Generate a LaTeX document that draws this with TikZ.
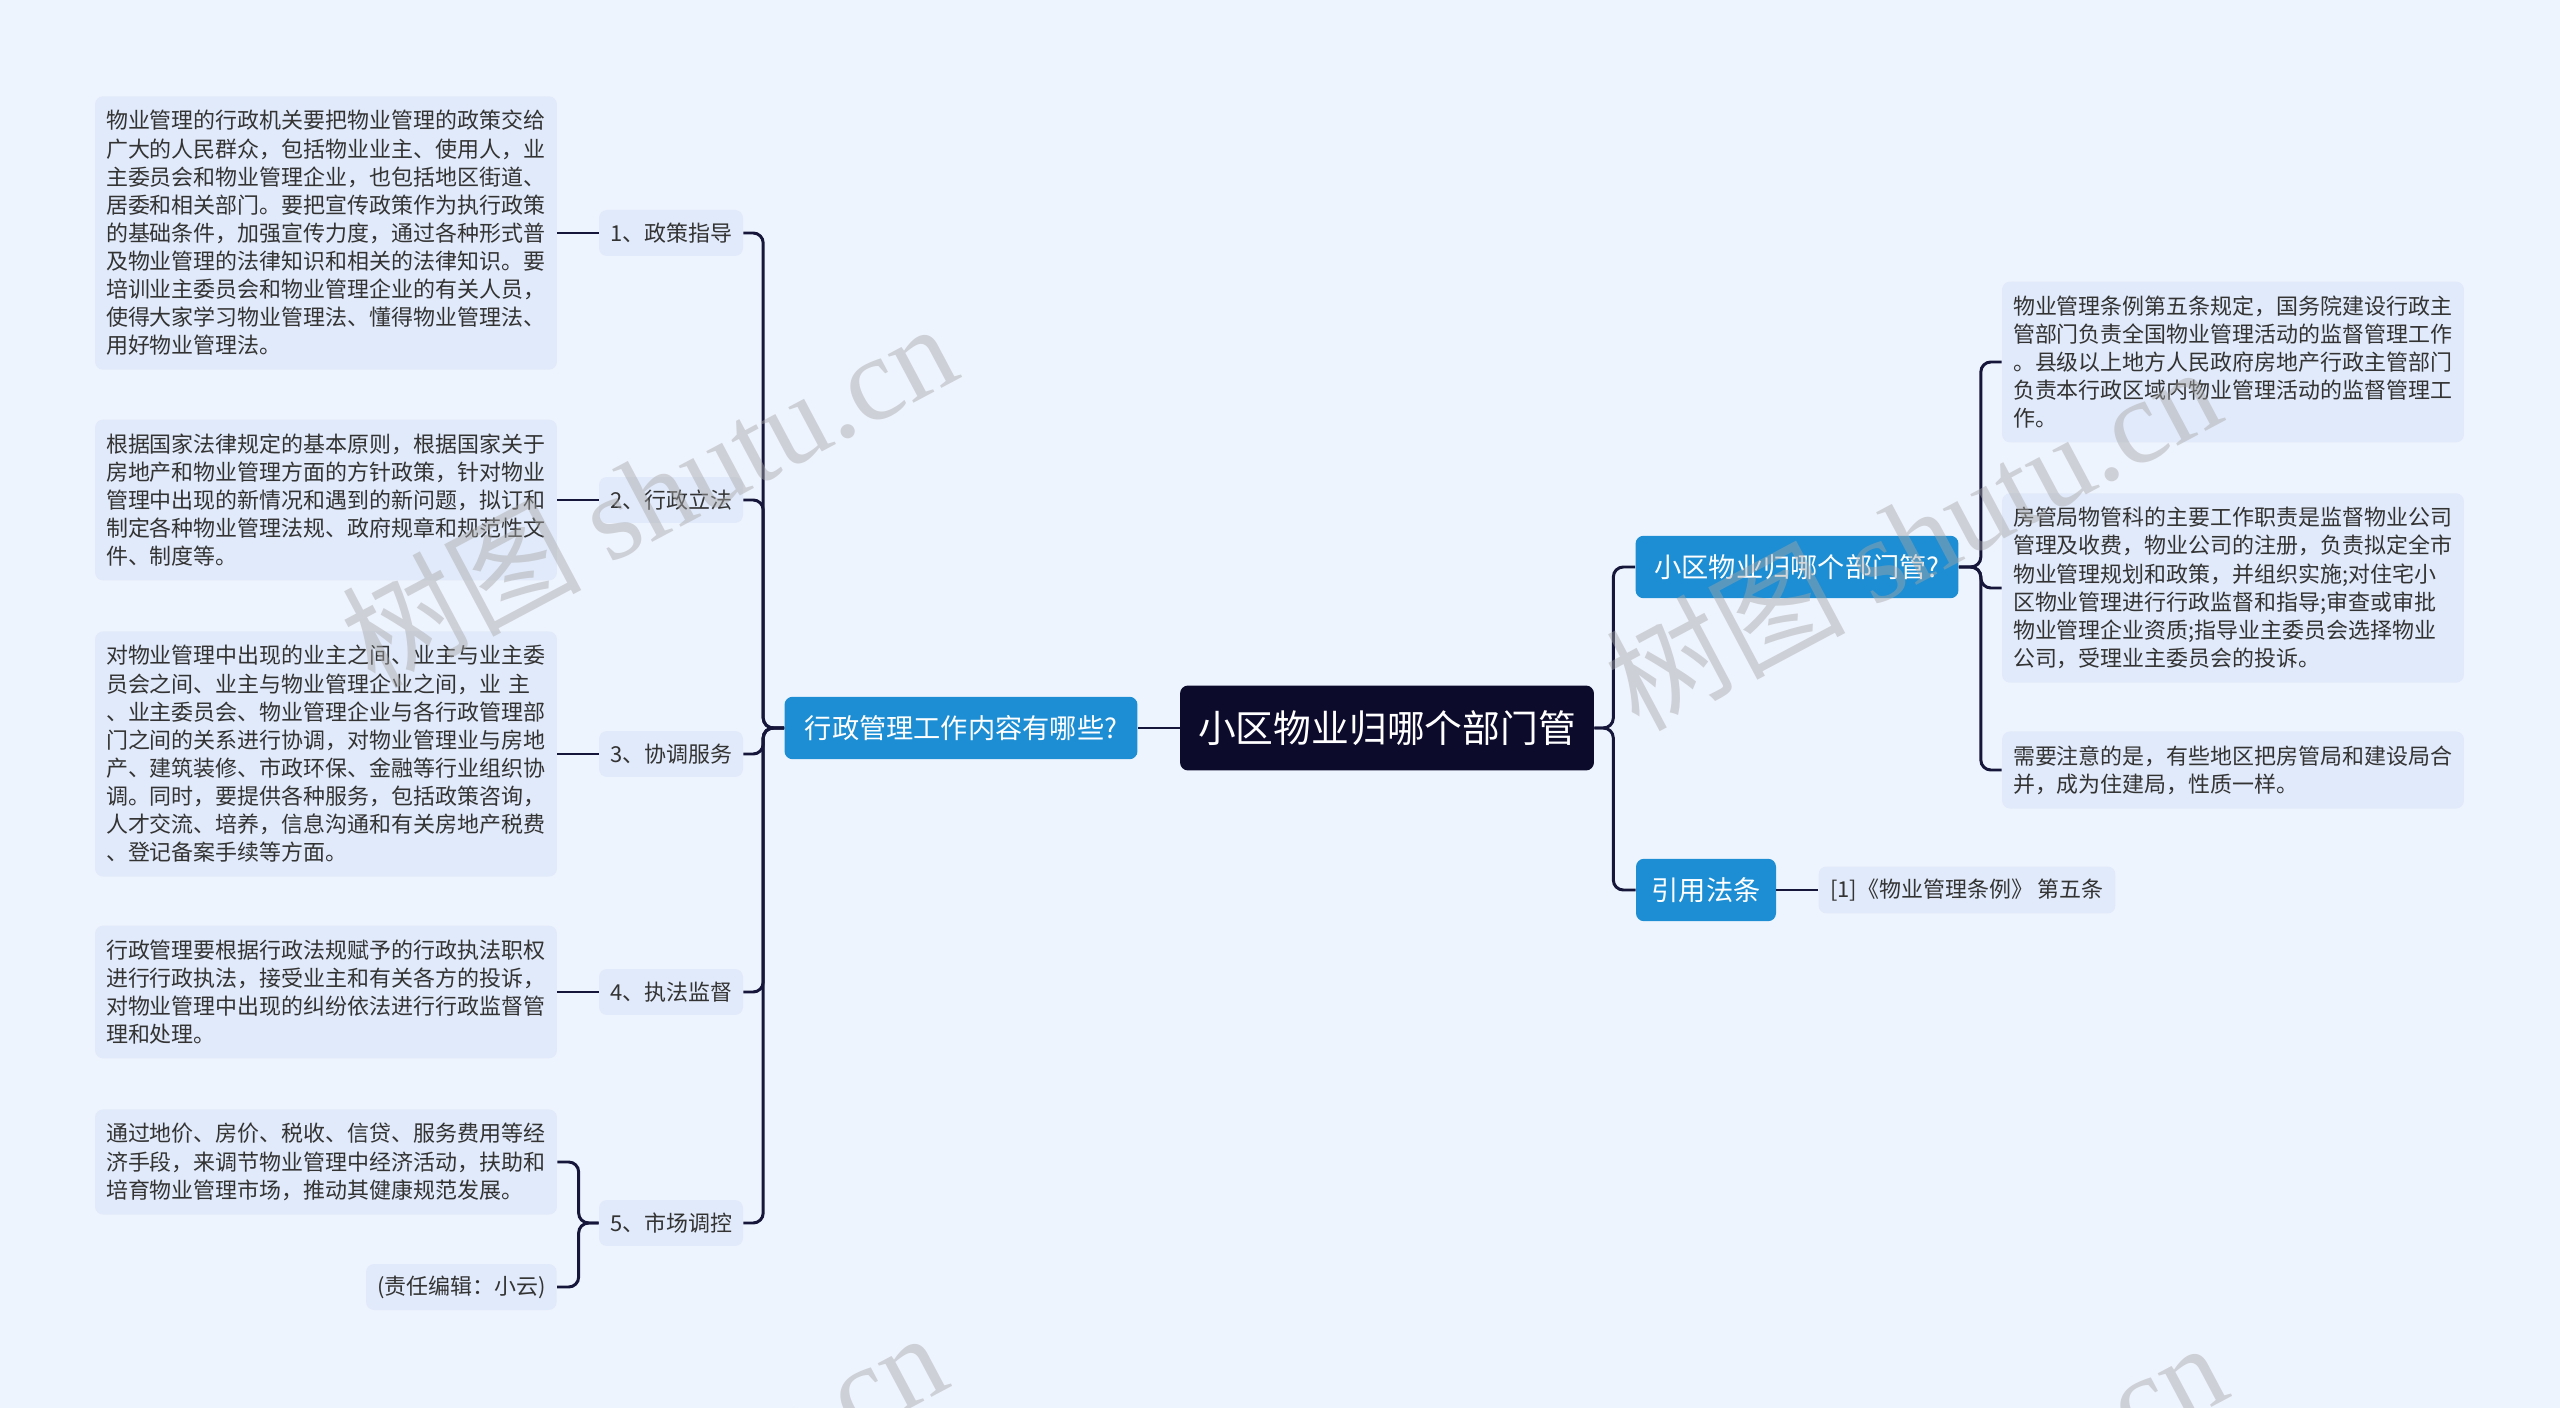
\documentclass[tikz,border=0pt]{standalone}
\usepackage{fontspec}
\setmainfont{Noto Sans CJK SC}
\newfontfamily\wmfont{Liberation Serif}
\usetikzlibrary{positioning}
\definecolor{bgc}{HTML}{EEF4FE}
\definecolor{boxc}{HTML}{E1EAFA}
\definecolor{topicc}{HTML}{1D8ED3}
\definecolor{rootc}{HTML}{0C0B2C}
\definecolor{linec}{HTML}{16163A}
\definecolor{txtc}{HTML}{333333}

\begin{document}
\begin{tikzpicture}[x=0.02cm,y=-0.02cm,
  every node/.style={font=\fontsize{12.5}{16}\selectfont,text=txtc},
  leaf/.style={fill=boxc,rounded corners=0.16cm,align=left,text width=8.8cm,inner xsep=0.22cm,inner ysep=0.28cm},
  sub/.style={fill=boxc,rounded corners=0.16cm,inner xsep=0.22cm,minimum height=0.92cm},
  topicbox/.style={fill=topicc,text=white,rounded corners=0.16cm,minimum height=1.25cm,font=\fontsize{15.5}{18}\selectfont},
  rootbox/.style={fill=rootc,text=white,rounded corners=0.16cm,minimum height=1.7cm,minimum width=8.28cm,font=\fontsize{21.5}{24}\selectfont},
  link/.style={draw=linec,line width=1.7pt,rounded corners=0.2cm},
  wm/.style={rotate=28,text=gray!70,opacity=0.45,font=\fontsize{68}{68}\selectfont}]
    \fill[bgc] (0,0) rectangle (2560,1408);
    % centre and left branch
    \node[rootbox] (root) at (1387,728) {小区物业归哪个部门管};
    \node[topicbox,minimum width=7.06cm] (l1) at (961,728) {行政管理工作内容有哪些?};
    \node[sub,minimum width=2.88cm] (s1) at (671,233) {1、政策指导};
    \node[sub,minimum width=2.88cm] (s2) at (671,500) {2、行政立法};
    \node[sub,minimum width=2.88cm] (s3) at (671,754) {3、协调服务};
    \node[sub,minimum width=2.88cm] (s4) at (671,992) {4、执法监督};
    \node[sub,minimum width=2.88cm] (s5) at (671,1223) {5、市场调控};
    \node[leaf] (t1) at (326,233) {物业管理的行政机关要把物业管理的政策交给\\广大的人民群众，包括物业业主、使用人，业\\主委员会和物业管理企业，也包括地区街道、\\居委和相关部门。要把宣传政策作为执行政策\\的基础条件，加强宣传力度，通过各种形式普\\及物业管理的法律知识和相关的法律知识。要\\培训业主委员会和物业管理企业的有关人员，\\使得大家学习物业管理法、懂得物业管理法、\\用好物业管理法。};
    \node[leaf] (t2) at (326,500) {根据国家法律规定的基本原则，根据国家关于\\房地产和物业管理方面的方针政策，针对物业\\管理中出现的新情况和遇到的新问题，拟订和\\制定各种物业管理法规、政府规章和规范性文\\件、制度等。};
    \node[leaf] (t3) at (326,754) {对物业管理中出现的业主之间、业主与业主委\\员会之间、业主与物业管理企业之间，业 主\\、业主委员会、物业管理企业与各行政管理部\\门之间的关系进行协调，对物业管理业与房地\\产、建筑装修、市政环保、金融等行业组织协\\调。同时，要提供各种服务，包括政策咨询，\\人才交流、培养，信息沟通和有关房地产税费\\、登记备案手续等方面。};
    \node[leaf] (t4) at (326,992) {行政管理要根据行政法规赋予的行政执法职权\\进行行政执法，接受业主和有关各方的投诉，\\对物业管理中出现的纠纷依法进行行政监督管\\理和处理。};
    \node[leaf] (t5a) at (326,1162) {通过地价、房价、税收、信贷、服务费用等经\\济手段，来调节物业管理中经济活动，扶助和\\培育物业管理市场，推动其健康规范发展。};
    \node[sub,anchor=east] (t5b) at (557,1287) {(责任编辑：小云)};
    % right branch
    \node[topicbox,minimum width=6.46cm] (r1) at (1797,567) {小区物业归哪个部门管?};
    \node[topicbox,minimum width=2.8cm] (r2) at (1706,890) {引用法条};
    \node[sub,minimum width=5.94cm,minimum height=0.94cm] (r2c) at (1967,890) {[1]《物业管理条例》 第五条};
    \node[leaf] (c1) at (2233,362) {物业管理条例第五条规定，国务院建设行政主\\管部门负责全国物业管理活动的监督管理工作\\。县级以上地方人民政府房地产行政主管部门\\负责本行政区域内物业管理活动的监督管理工\\作。};
    \node[leaf] (c2) at (2233,588) {房管局物管科的主要工作职责是监督物业公司\\管理及收费，物业公司的注册，负责拟定全市\\物业管理规划和政策，并组织实施;对住宅小\\区物业管理进行行政监督和指导;审查或审批\\物业管理企业资质;指导业主委员会选择物业\\公司，受理业主委员会的投诉。};
    \node[leaf] (c3) at (2233,770) {需要注意的是，有些地区把房管局和建设局合\\并，成为住建局，性质一样。};
    % connectors
    \draw[link] (root.west) -- (l1.east);
    \foreach \i in {1,...,5}
      \draw[link] (l1.west) -- ++(-21,0) |- (s\i.east);
    \foreach \i in {1,...,4}
      \draw[link] (t\i.east) -- (s\i.west);
    \draw[link] (s5.west) -- ++(-20,0) |- (t5a.east);
    \draw[link] (s5.west) -- ++(-20,0) |- (t5b.east);
    \draw[link] (root.east) -- ++(19,0) |- (r1.west);
    \draw[link] (root.east) -- ++(19,0) |- (r2.west);
    \foreach \c in {c1,c2,c3}
      \draw[link] (r1.east) -- ++(22,0) |- (\c.west);
    \draw[link] (r2.east) -- (r2c.west);
    % watermarks
    \begin{scope}
      \clip (0,0) rectangle (2560,1408);
      \node[wm] (wm1) at (648,493) {树图 {\wmfont shutu.cn}};
      \node[wm] (wm2) at (1912,536) {树图 {\wmfont shutu.cn}};
      \node[wm] (wm3) at (638,1502) {树图 {\wmfont shutu.cn}};
      \node[wm] (wm4) at (1918,1512) {树图 {\wmfont shutu.cn}};
    \end{scope}
\end{tikzpicture}
\end{document}
